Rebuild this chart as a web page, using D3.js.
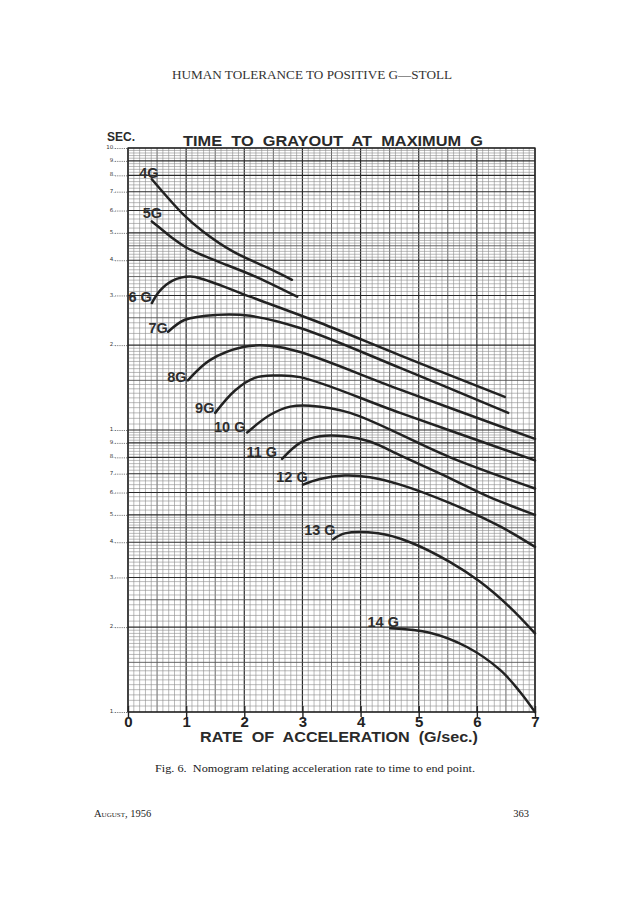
<!DOCTYPE html>
<html><head><meta charset="utf-8">
<script src="https://cdn.jsdelivr.net/npm/d3@7"></script>
<style>html,body{margin:0;padding:0;background:#fff;}</style>
</head><body>
<svg id="c" width="638" height="902"></svg>
<script>
// ---- data ----
const seriesNames = ["4G","5G","6 G","7G","8G","9G","10 G","11 G","12 G","13 G","14 G"];
const curve4G  = [[0.41,7.75],[0.95,5.82],[1.29,5.06],[1.81,4.29],[2.39,3.77],[2.82,3.41]];
const curve5G  = [[0.41,5.49],[0.55,5.20],[0.75,4.82],[1.01,4.43],[1.30,4.15],[1.53,3.97],[2.22,3.48],[2.91,2.97]];
const curve6G  = [[0.41,2.82],[0.55,3.12],[0.76,3.38],[1.07,3.50],[1.32,3.41],[2.10,2.97],[3.30,2.40],[4.68,1.84],[6.48,1.31]];
const curve7G  = [[0.69,2.23],[0.98,2.46],[1.53,2.56],[2.10,2.54],[2.96,2.30],[4.68,1.66],[6.54,1.15]];
const curve8G  = [[1.03,1.50],[1.41,1.77],[1.98,1.97],[2.44,1.99],[2.96,1.89],[4.68,1.39],[7.00,0.93]];
const curve9G  = [[1.50,1.15],[1.84,1.38],[2.18,1.53],[2.53,1.56],[2.96,1.54],[4.68,1.15],[7.00,0.78]];
const curve10G = [[2.05,0.98],[2.44,1.13],[2.79,1.21],[3.13,1.22],[3.82,1.15],[5.54,0.80],[7.00,0.62]];
const curve11G = [[2.65,0.79],[2.96,0.90],[3.30,0.95],[3.73,0.95],[4.16,0.91],[4.70,0.81],[5.37,0.70],[6.20,0.58],[7.00,0.50]];
const curve12G = [[3.01,0.64],[3.30,0.67],[3.73,0.69],[4.16,0.68],[4.68,0.64],[5.54,0.55],[6.40,0.455],[7.00,0.385]];
const curve13G = [[3.53,0.41],[3.73,0.43],[4.30,0.43],[4.85,0.40],[5.54,0.34],[6.05,0.29],[6.57,0.235],[7.00,0.19]];
const curve14G = [[4.51,0.198],[5.19,0.191],[5.83,0.170],[6.40,0.141],[6.74,0.118],[7.00,0.100]];
const seriesData = [curve4G,curve5G,curve6G,curve7G,curve8G,curve9G,curve10G,curve11G,curve12G,curve13G,curve14G];
// label anchor (centre) of each curve name, in data units
const labelAnchors = [[0.36,8.15],[0.42,5.88],[0.21,2.96],[0.52,2.30],[0.84,1.54],[1.32,1.20],[1.75,1.03],[2.30,0.836],[2.82,0.681],[3.30,0.442],[4.39,0.209]];

const xTickValues = [0,1,2,3,4,5,6,7];
const xTickLabels = ["0","1","2","3","4","5","6","7"];
const yTickValues = [0.1,0.2,0.3,0.4,0.5,0.6,0.7,0.8,0.9,1,2,3,4,5,6,7,8,9,10];
const yTickLabels = ["1.","2.","3.","4.","5.","6.","7.","8.","9.","1.","2.","3.","4.","5.","6.","7.","8.","9.","10."];

const pageHeader = "HUMAN TOLERANCE TO POSITIVE G\u2014STOLL";
const chartTitle = "TIME  TO  GRAYOUT  AT  MAXIMUM  G";
const yUnit = "SEC.";
const xTitle = "RATE  OF  ACCELERATION  (G/sec.)";
const caption = "Fig. 6.  Nomogram relating acceleration rate to time to end point.";
const footerLeft = "August, 1956";
const footerRight = "363";

// ---- layout ----
const X0 = 128, X1 = 535, Y0 = 148, Y1 = 712;
const svg = d3.select("#c");
svg.append("rect").attr("width",638).attr("height",902).attr("fill","#fff");

const x = d3.scaleLinear().domain([0,7]).range([X0,X1]);
const y = d3.scaleLog().domain([0.1,10]).range([Y1,Y0]);

// ---- grid ----
const grid = svg.append("g");
const xMinor = d3.range(0,70.5,1).map(v=>v/10);
xMinor.forEach(v=>{
  const isMaj = Math.abs(v-Math.round(v))<1e-6;
  const isMed = !isMaj && Math.abs(v*2-Math.round(v*2))<1e-6;
  grid.append("line").attr("x1",x(v)).attr("x2",x(v)).attr("y1",Y0).attr("y2",Y1)
    .attr("stroke", isMaj?"#2a2a2a":isMed?"#555":"#8c8c8c")
    .attr("stroke-width", isMaj?1.2:isMed?0.9:0.6);
});
const yGrid = [];
[0.1,1].forEach(d=>{
  for(let v=1; v<10-1e-9; ){
    const step = v<2-1e-9?0.05:(v<5-1e-9?0.1:0.2);
    yGrid.push({v:v*d, maj:Math.abs(v-Math.round(v))<1e-6, med:Math.abs(v*2-Math.round(v*2))<1e-6});
    v = Math.round((v+step)*100)/100;
  }
});
yGrid.push({v:10,maj:true});
yGrid.forEach(o=>{
  const isMed = !o.maj && o.med;
  grid.append("line").attr("x1",X0).attr("x2",X1).attr("y1",y(o.v)).attr("y2",y(o.v))
    .attr("stroke", o.maj?"#2a2a2a":isMed?"#555":"#8c8c8c")
    .attr("stroke-width", o.maj?1.1:isMed?0.9:0.6);
});
svg.append("rect").attr("x",X0).attr("y",Y0).attr("width",X1-X0).attr("height",Y1-Y0)
  .attr("fill","none").attr("stroke","#222").attr("stroke-width",1.3);

// ---- axes ----
const xAxis = d3.axisBottom(x).tickValues(xTickValues).tickSize(5).tickPadding(1)
  .tickFormat((d,i)=>xTickLabels[i]);
const gx = svg.append("g").attr("transform",`translate(0,${Y1})`).call(xAxis);
gx.select(".domain").remove();
gx.selectAll(".tick line").attr("stroke","#222").attr("stroke-width",1.4).attr("y1",-6);
gx.selectAll(".tick text").attr("font-family","Liberation Sans, Arial, sans-serif")
  .attr("font-weight","bold").attr("font-size",15).attr("fill","#222").attr("dy","0.62em");

const yAxis = d3.axisLeft(y).tickValues(yTickValues).tickSize(0).tickPadding(12)
  .tickFormat((d,i)=>yTickLabels[i]);
const gy = svg.append("g").attr("transform",`translate(${X0},0)`).call(yAxis);
gy.select(".domain").remove();
gy.selectAll(".tick text").attr("font-family","DejaVu Sans, sans-serif")
  .attr("font-size",5.5).attr("fill","#333").attr("text-anchor","end").attr("x",-13).attr("dy","0.1em");
gy.selectAll(".tick").append("line").attr("x1",-13).attr("x2",0).attr("y1",0).attr("y2",0)
  .attr("stroke","#444").attr("stroke-width",0.7).attr("stroke-dasharray","1.2,1");

// ---- curves ----
const line = d3.line().x(d=>x(d[0])).y(d=>y(d[1])).curve(d3.curveCatmullRom.alpha(0.5));
svg.append("g").selectAll("path").data(seriesData).join("path")
  .attr("d",line).attr("fill","none").attr("stroke","#222")
  .attr("stroke-width",2.5).attr("stroke-linecap","round");

// curve labels
svg.append("g").selectAll("text").data(seriesNames).join("text")
  .attr("x",(d,i)=>x(labelAnchors[i][0])).attr("y",(d,i)=>y(labelAnchors[i][1]))
  .attr("dy","0.36em").attr("text-anchor","middle")
  .attr("font-family","Liberation Sans, Arial, sans-serif").attr("font-weight","bold")
  .attr("font-size",14.5).attr("fill","#2e2e2e").text(d=>d);

// ---- texts ----
svg.append("text").attr("x",172).attr("y",79).attr("textLength",280).attr("lengthAdjust","spacingAndGlyphs")
  .attr("font-family","Liberation Serif, serif").attr("font-size",11.5).attr("fill","#333").text(pageHeader);
svg.append("text").attr("x",183).attr("y",146).attr("textLength",300).attr("lengthAdjust","spacingAndGlyphs")
  .attr("font-family","Liberation Sans, Arial, sans-serif").attr("font-weight","bold")
  .attr("font-size",14).attr("fill","#2a2a2a").attr("xml:space","preserve").text(chartTitle);
svg.append("text").attr("x",107).attr("y",141).attr("textLength",28).attr("lengthAdjust","spacingAndGlyphs")
  .attr("font-family","Liberation Sans, Arial, sans-serif").attr("font-weight","bold")
  .attr("font-size",12).attr("fill","#2a2a2a").text(yUnit);
svg.append("text").attr("x",200).attr("y",742).attr("textLength",278).attr("lengthAdjust","spacingAndGlyphs")
  .attr("font-family","Liberation Sans, Arial, sans-serif").attr("font-weight","bold")
  .attr("font-size",14).attr("fill","#2a2a2a").attr("xml:space","preserve").text(xTitle);
svg.append("text").attr("x",155).attr("y",772).attr("textLength",320).attr("lengthAdjust","spacingAndGlyphs")
  .attr("font-family","Liberation Serif, serif").attr("font-size",10.5).attr("fill","#222")
  .attr("xml:space","preserve").text(caption);
svg.append("text").attr("x",94).attr("y",817)
  .attr("font-family","Liberation Serif, serif").attr("font-size",10.5).attr("fill","#222")
  .attr("font-variant","small-caps").text(footerLeft);
svg.append("text").attr("x",529).attr("y",817).attr("text-anchor","end")
  .attr("font-family","Liberation Serif, serif").attr("font-size",10.5).attr("fill","#222").text(footerRight);
</script>
</body></html>
